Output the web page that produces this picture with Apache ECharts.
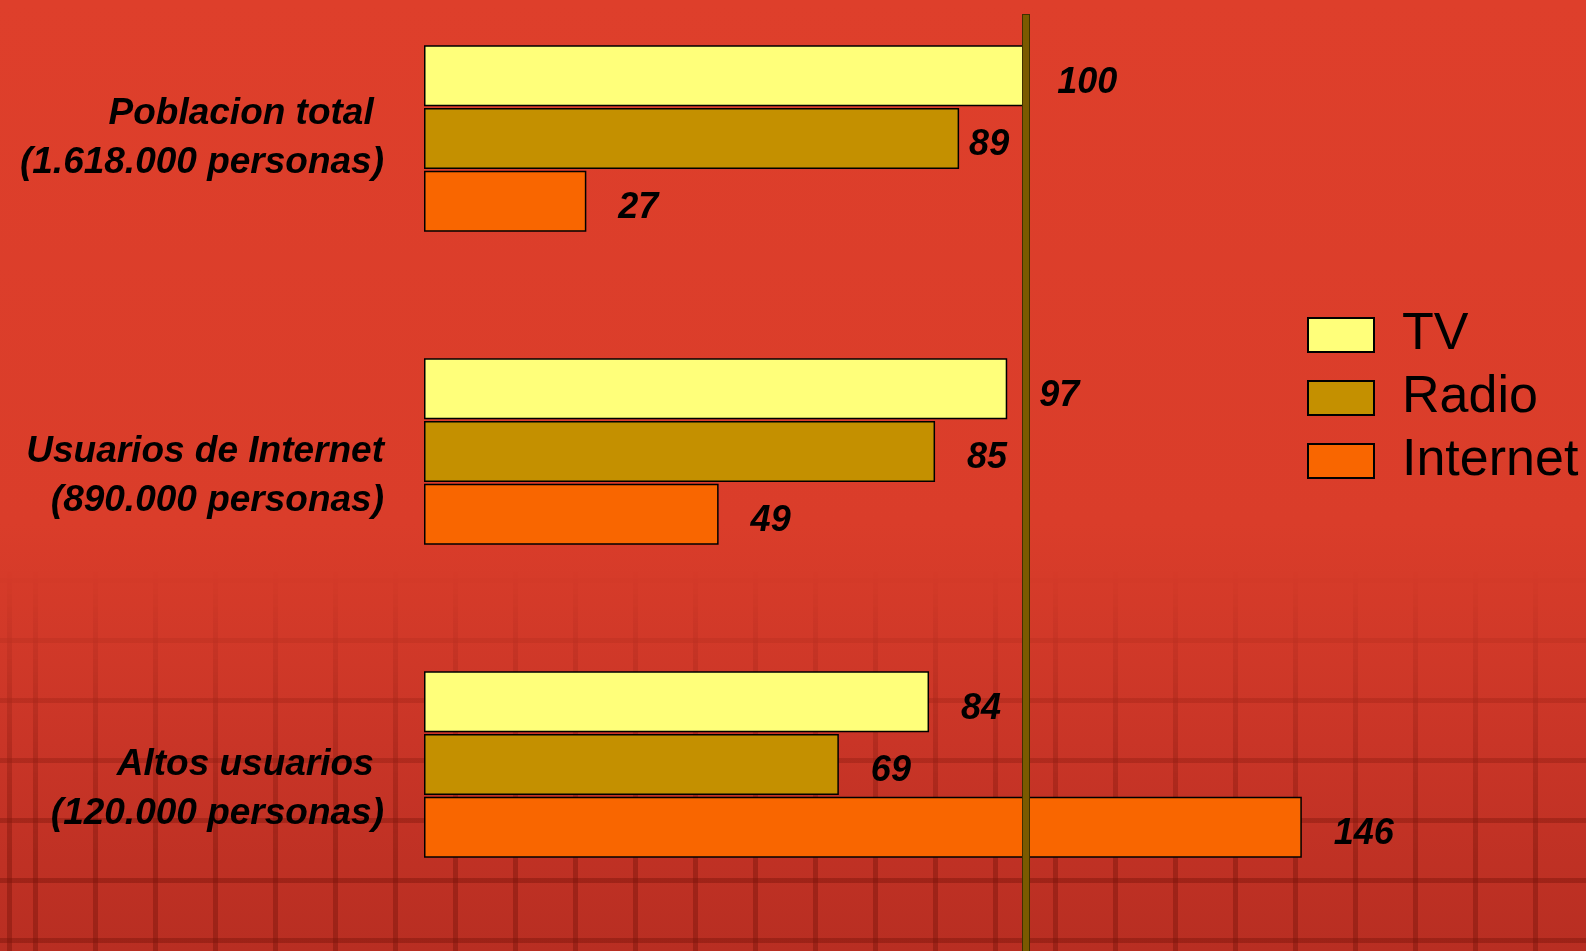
<!DOCTYPE html>
<html>
<head>
<meta charset="utf-8">
<script src="https://cdn.jsdelivr.net/npm/echarts@6/dist/echarts.min.js"></script>
<style>
  html, body { margin: 0; padding: 0; }
  .wrap {
    position: relative;
    width: 1586px;
    height: 951px;
    overflow: hidden;
    background: linear-gradient(to bottom, #de3f2b 0%, #da3d2a 55%, #c93527 78%, #b82e22 100%);
  }
  .tiles {
    position: absolute;
    left: 0; top: 0; right: 0; bottom: 0;
    background-image:
      repeating-linear-gradient(90deg, rgba(115, 18, 8, 0.4) 0 5px, transparent 5px 60px),
      repeating-linear-gradient(180deg, rgba(115, 18, 8, 0.4) 0 5px, transparent 5px 60px);
    background-position: 33px 0, 0 38px;
    -webkit-mask-image: linear-gradient(to bottom, transparent 60%, rgba(0,0,0,0.55) 76%, #000 90%);
    mask-image: linear-gradient(to bottom, transparent 60%, rgba(0,0,0,0.55) 76%, #000 90%);
  }
  .echarts {
    position: absolute;
    left: 0; top: 0;
    width: 1586px;
    height: 951px;
  }
</style>
</head>
<body>
<div class="wrap">
  <div class="tiles"></div>
  <div id="main" class="echarts"></div>
</div>
<script>
  // categories (top to bottom)
  var categorias = [
    'Poblacion total \n(1.618.000 personas)',
    'Usuarios de Internet\n(890.000 personas)',
    'Altos usuarios \n(120.000 personas)'
  ];
  var tv = [100, 97, 84];
  var radio = [89, 85, 69];
  var internet = [27, 49, 146];
  var referencia = 100;

  var fuente = 'Arial, "Liberation Sans", sans-serif';

  var labelStyle = {
    show: true,
    position: 'right',
    distance: 32,
    color: '#000',
    fontSize: 36,
    fontWeight: 'bold',
    fontStyle: 'italic',
    fontFamily: fuente,
    offset: [0, 7]
  };

  var option = {
    animation: false,
    backgroundColor: 'transparent',
    grid: {
      left: 424,
      right: 200,
      top: -18,
      bottom: 30,
      outerBoundsMode: 'none'
    },
    legend: {
      data: ['TV', 'Radio', 'Internet'],
      orient: 'vertical',
      left: 1307,
      top: 309,
      icon: 'rect',
      itemWidth: 66,
      itemHeight: 34,
      itemGap: 11,
      padding: 0,
      itemStyle: { borderColor: '#000', borderWidth: 2 },
      textStyle: {
        color: '#000',
        fontSize: 52,
        fontFamily: fuente,
        padding: [0, 0, 0, 23]
      }
    },
    xAxis: {
      type: 'value',
      min: 0,
      max: 160,
      show: false
    },
    yAxis: {
      type: 'category',
      inverse: true,
      data: categorias,
      axisLine: { show: false },
      axisTick: { show: false },
      splitLine: { show: false },
      axisLabel: {
        interval: 0,
        margin: 40,
        align: 'right',
        color: '#000',
        fontSize: 37,
        fontWeight: 'bold',
        fontStyle: 'italic',
        fontFamily: fuente,
        lineHeight: 49,
        // lower two labels sit a bit below the middle of their bar group
        formatter: function (value, index) {
          return index === 0 ? value : '\n' + value;
        }
      }
    },
    series: [
      {
        name: 'TV',
        type: 'bar',
        data: tv,
        barWidth: 61,
        barGap: '3%',
        itemStyle: { color: '#ffff7a', borderColor: '#000', borderWidth: 1.5 },
        label: labelStyle
      },
      {
        name: 'Radio',
        type: 'bar',
        data: radio.map(function (v, i) {
          // the first label sits tight against the bar, left of the reference line
          return i === 0 ? { value: v, label: { distance: 10 } } : v;
        }),
        barWidth: 61,
        barGap: '3%',
        itemStyle: { color: '#c49000', borderColor: '#000', borderWidth: 1.5 },
        label: labelStyle
      },
      {
        name: 'Internet',
        type: 'bar',
        data: internet,
        barWidth: 61,
        barGap: '3%',
        itemStyle: { color: '#f96600', borderColor: '#000', borderWidth: 1.5 },
        label: labelStyle,
        markLine: {
          silent: true,
          symbol: ['none', 'none'],
          label: { show: false },
          data: [
            [
              { xAxis: referencia, y: 14, lineStyle: { color: '#3f3000', width: 8, type: 'solid' } },
              { xAxis: referencia, y: 951 }
            ],
            [
              { xAxis: referencia, y: 15, lineStyle: { color: '#7a5a00', width: 6, type: 'solid' } },
              { xAxis: referencia, y: 951 }
            ]
          ]
        }
      }
    ]
  };

  var myChart = echarts.init(document.getElementById('main'));
  myChart.setOption(option);
</script>
</body>
</html>
